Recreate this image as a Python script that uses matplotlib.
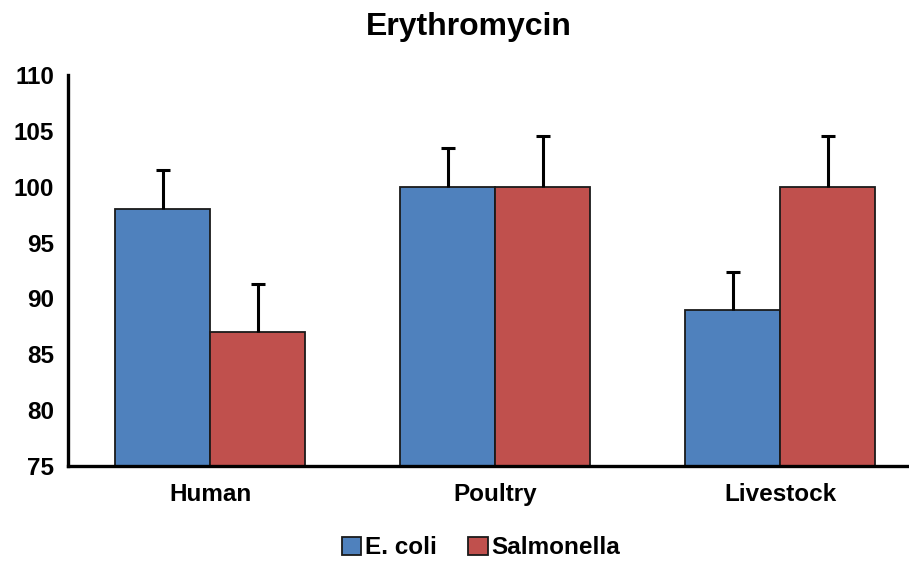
import matplotlib
matplotlib.use("Agg")
import matplotlib.pyplot as plt
import numpy as np

categories = ["Human", "Poultry", "Livestock"]
ecoli = [98, 100, 89]
ecoli_err = [3.5, 3.5, 3.4]
salmonella = [87, 100, 100]
salmonella_err = [4.3, 4.5, 4.5]
yticks = [75, 80, 85, 90, 95, 100, 105, 110]

plt.rcParams['font.family'] = ['Liberation Sans', 'DejaVu Sans']
plt.rcParams['font.weight'] = 'bold'

W, H = 909, 563
fig = plt.figure(figsize=(W / 100, H / 100), dpi=100)
ax = fig.add_axes([68 / W, (H - 466) / H, (922.5 - 68) / W, (466 - 75) / H])

x = np.arange(len(categories))
bw = 1 / 3
blue = '#4F81BD'
red = '#C0504D'
ek = dict(ecolor='black', elinewidth=2.2, capsize=5, capthick=2.2)
b1 = ax.bar(x - bw / 2, [v - 75 for v in ecoli], bw, bottom=75, color=blue, edgecolor='#1a1a1a',
            linewidth=1.3, yerr=[np.zeros(3), ecoli_err], error_kw=ek, label='E. coli', zorder=2)
b2 = ax.bar(x + bw / 2, [v - 75 for v in salmonella], bw, bottom=75, color=red, edgecolor='#1a1a1a',
            linewidth=1.3, yerr=[np.zeros(3), salmonella_err], error_kw=ek, label='Salmonella', zorder=2)
for b in (b1, b2):
    caps = b.errorbar.lines[1]
    if len(caps) >= 1:
        caps[0].set_visible(False)

ax.set_xlim(-0.5, 2.5)
ax.set_ylim(75, 110)
ax.set_yticks(yticks)
ax.set_xticks(x)
ax.set_xticklabels(categories, fontsize=17.5, fontweight='bold')
ax.set_yticklabels([str(t) for t in yticks], fontsize=17.5, fontweight='bold')
ax.tick_params(axis='both', length=0)
ax.tick_params(axis='y', pad=10)
ax.tick_params(axis='x', pad=12)
for s in ['top', 'right']:
    ax.spines[s].set_visible(False)
for s in ['left', 'bottom']:
    ax.spines[s].set_linewidth(2.4)
    ax.spines[s].set_color('black')
ax.spines['bottom'].set_zorder(3)

fig.text(469 / W, (H - 27) / H, "Erythromycin", ha='center', va='center', fontsize=23, fontweight='bold')

leg = fig.legend(loc='center', bbox_to_anchor=(481 / W, 15 / H), ncol=2, frameon=False,
                 fontsize=17.5, handlelength=0.8, handleheight=0.8, handletextpad=0.15,
                 columnspacing=1.3, borderaxespad=0)
for t in leg.get_texts():
    t.set_fontweight('bold')

fig.savefig("out.png", dpi=100)
